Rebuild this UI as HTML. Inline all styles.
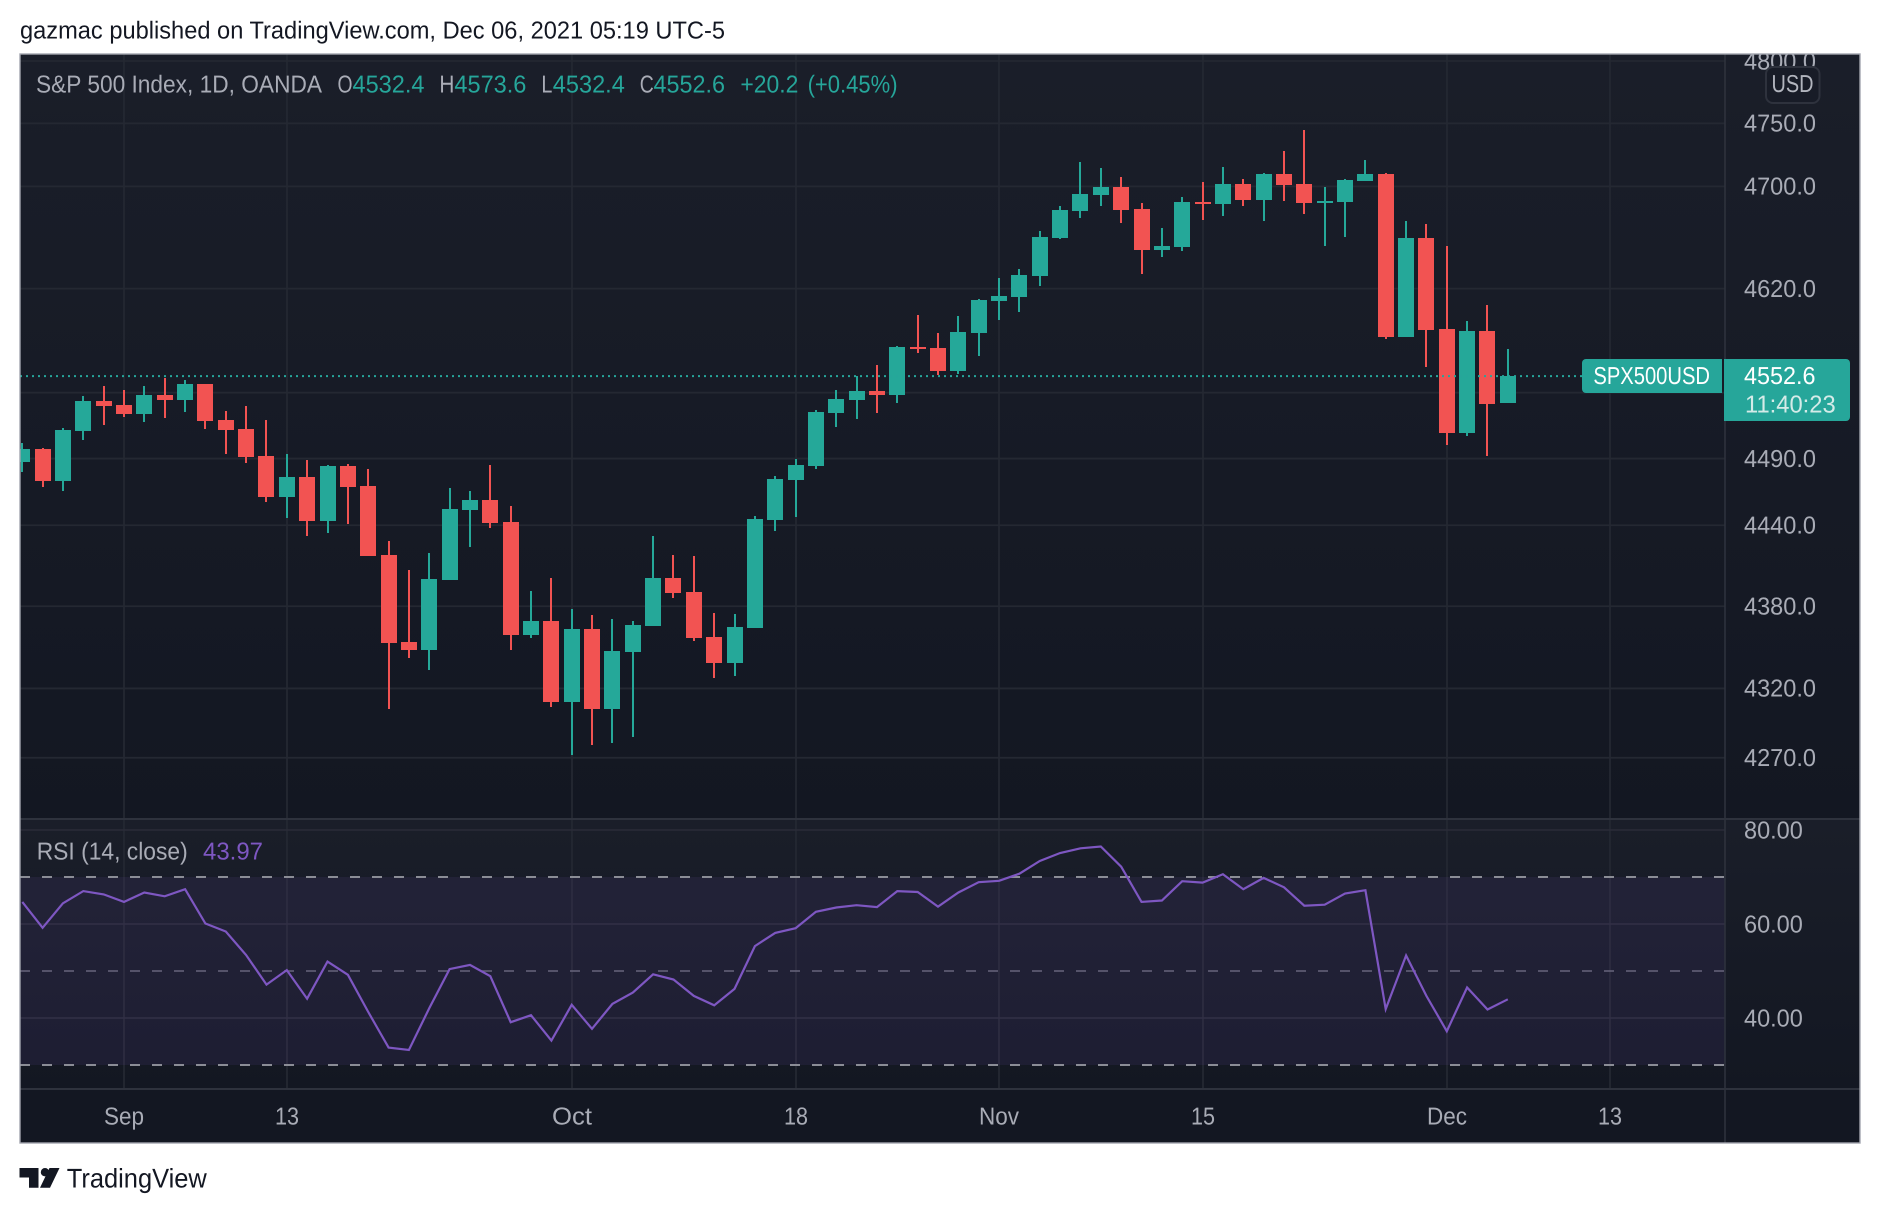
<!DOCTYPE html>
<html lang="en">
<head>
<meta charset="utf-8">
<title>S&amp;P 500 Index chart</title>
<style>
html,body{margin:0;padding:0;background:#fff;}
svg{display:block;}
text{font-family:"Liberation Sans",Arial,sans-serif;font-size:24.5px;text-rendering:geometricPrecision;}
</style>
</head>
<body>
<svg id="chart" xmlns="http://www.w3.org/2000/svg" width="1880" height="1214" viewBox="0 0 1880 1214">
  <defs>
    <linearGradient id="paneGradient" x1="0" y1="0" x2="0" y2="1">
      <stop offset="0" stop-color="#1a1e29"/>
      <stop offset="1" stop-color="#131722"/>
    </linearGradient>
    <clipPath id="paneClip"><rect x="20" y="54" width="1705" height="1035"/></clipPath>
    <clipPath id="frameClip"><rect x="20" y="54" width="1840" height="1090"/></clipPath>
  </defs>

  <text x="20" y="38.5" textLength="705" lengthAdjust="spacingAndGlyphs" fill="#131722">gazmac published on TradingView.com, Dec 06, 2021 05:19 UTC-5</text>

  <rect x="20" y="1089" width="1840" height="54" fill="#131722"/>
  <rect x="20" y="54" width="1840" height="765" fill="url(#paneGradient)"/>
  <rect x="20" y="819" width="1840" height="270" fill="url(#paneGradient)"/>

  <g id="gridLayer" clip-path="url(#paneClip)"></g>
  <g id="rsiLayer" clip-path="url(#paneClip)"></g>
  <g id="candleLayer" clip-path="url(#paneClip)"></g>

  <line x1="20" x2="1860" y1="819" y2="819" stroke="#2e323d" stroke-width="2"/>
  <line x1="20" x2="1860" y1="1089" y2="1089" stroke="#2e323d" stroke-width="2"/>
  <line x1="1725" x2="1725" y1="54" y2="1143" stroke="#2e323d" stroke-width="1.6"/>

  <g id="axisLayer" clip-path="url(#frameClip)"></g>

  <line id="lastPriceLine" x1="20" x2="1582" stroke="#26a69a" stroke-width="2" stroke-dasharray="2 4"/>

  <g>
    <text x="36" y="92.5" textLength="286" lengthAdjust="spacingAndGlyphs" fill="#a9acb6">S&amp;P 500 Index, 1D, OANDA</text>
    <text x="337.5" y="92.5" textLength="15" lengthAdjust="spacingAndGlyphs" fill="#a9acb6">O</text>
    <text x="352.5" y="92.5" textLength="72" lengthAdjust="spacingAndGlyphs" fill="#26a69a">4532.4</text>
    <text x="439.4" y="92.5" textLength="15" lengthAdjust="spacingAndGlyphs" fill="#a9acb6">H</text>
    <text x="454.4" y="92.5" textLength="72" lengthAdjust="spacingAndGlyphs" fill="#26a69a">4573.6</text>
    <text x="541.4" y="92.5" textLength="11" lengthAdjust="spacingAndGlyphs" fill="#a9acb6">L</text>
    <text x="552.8" y="92.5" textLength="72" lengthAdjust="spacingAndGlyphs" fill="#26a69a">4532.4</text>
    <text x="639.7" y="92.5" textLength="14" lengthAdjust="spacingAndGlyphs" fill="#a9acb6">C</text>
    <text x="653.5" y="92.5" textLength="71.5" lengthAdjust="spacingAndGlyphs" fill="#26a69a">4552.6</text>
    <text x="740.4" y="92.5" textLength="58" lengthAdjust="spacingAndGlyphs" fill="#26a69a">+20.2</text>
    <text x="807.6" y="92.5" textLength="90" lengthAdjust="spacingAndGlyphs" fill="#26a69a">(+0.45%)</text>
    <text x="36.7" y="859.3" textLength="151" lengthAdjust="spacingAndGlyphs" fill="#a9acb6">RSI (14, close)</text>
    <text x="203" y="859.3" textLength="60" lengthAdjust="spacingAndGlyphs" fill="#7e57c2">43.97</text>
  </g>

  <g>
    <rect x="1766" y="67" width="53.5" height="36" rx="7" fill="#181c27" stroke="#2e323d" stroke-width="2"/>
    <text x="1771.5" y="92" textLength="42" lengthAdjust="spacingAndGlyphs" fill="#b2b5be">USD</text>
  </g>

  <g>
    <path d="M1586 359H1722V393H1586a4 4 0 0 1-4-4V363a4 4 0 0 1 4-4Z" fill="#26a69a"/>
    <text x="1593.4" y="384.2" textLength="116.6" lengthAdjust="spacingAndGlyphs" fill="#ffffff">SPX500USD</text>
    <path d="M1724 359H1846a4 4 0 0 1 4 4V417a4 4 0 0 1-4 4H1724Z" fill="#26a69a"/>
    <text x="1744" y="384.2" textLength="71.5" lengthAdjust="spacingAndGlyphs" fill="#ffffff">4552.6</text>
    <text x="1745" y="412.5" textLength="90.7" lengthAdjust="spacingAndGlyphs" fill="#d4ebe8">11:40:23</text>
  </g>

  <rect x="20" y="54" width="1840" height="1089" fill="none" stroke="#a3a6af" stroke-width="1.4"/>

  <g>
    <path d="M19.5 1168H38.5V1187.7H29V1177.5H19.5Z" fill="#131722"/>
    <circle cx="45" cy="1172.2" r="4.2" fill="#131722"/>
    <path d="M49.5 1168H59.5L50 1187.7H40Z" fill="#131722"/>
    <text x="66.8" y="1187.7" textLength="140" lengthAdjust="spacingAndGlyphs" style="font-size:27px" fill="#131722">TradingView</text>
  </g>
</svg>

<script>
const dates = ["Aug 25","Aug 26","Aug 27","Aug 30","Aug 31","Sep 1","Sep 2","Sep 3","Sep 6","Sep 7","Sep 8","Sep 9","Sep 10","Sep 13","Sep 14","Sep 15","Sep 16","Sep 17","Sep 20","Sep 21","Sep 22","Sep 23","Sep 24","Sep 27","Sep 28","Sep 29","Sep 30","Oct 1","Oct 4","Oct 5","Oct 6","Oct 7","Oct 8","Oct 11","Oct 12","Oct 13","Oct 14","Oct 15","Oct 18","Oct 19","Oct 20","Oct 21","Oct 22","Oct 25","Oct 26","Oct 27","Oct 28","Oct 29","Nov 1","Nov 2","Nov 3","Nov 4","Nov 5","Nov 8","Nov 9","Nov 10","Nov 11","Nov 12","Nov 15","Nov 16","Nov 17","Nov 18","Nov 19","Nov 22","Nov 23","Nov 24","Nov 25","Nov 26","Nov 29","Nov 30","Dec 1","Dec 2","Dec 3","Dec 6"];

const opens = [4487.5,4497.2,4473.2,4511,4533.6,4530.6,4523.8,4538.2,4534.4,4546.6,4519.2,4512.4,4492,4461.2,4476.2,4443.2,4484.5,4469.4,4417.9,4353.8,4347.9,4399.4,4451.4,4458.9,4442.5,4358.9,4369.2,4310.2,4363.3,4305.1,4346.4,4365.5,4400.9,4390.5,4357.4,4338.5,4364,4444,4474,4484.5,4524.5,4534.4,4541.3,4538.2,4574.9,4574.1,4556.6,4585.7,4610.4,4613.5,4629.8,4659.4,4680.6,4693.3,4699.6,4682.2,4650,4652.4,4687.7,4686.2,4702,4689.3,4709.8,4702,4686.9,4687.7,4704.3,4709.8,4582.6,4659.4,4588.8,4509.4,4587.2,4532.4];

const highs = [4501.8,4498,4513.2,4537.5,4545.1,4542,4545.1,4551,4549.7,4546.6,4526,4529.9,4519.2,4493.5,4489,4485.2,4486,4482.2,4428.3,4406.8,4419.4,4467.9,4465.7,4485.2,4454.4,4391.3,4400.9,4378,4373.6,4370.7,4369.2,4432,4417.9,4417.2,4375,4374.3,4447,4477,4489.7,4526.8,4542,4552.5,4561,4575.7,4599.6,4585.7,4598.9,4612,4628.3,4635.3,4665,4684.6,4719.3,4714.6,4707.5,4686.9,4667.3,4691.7,4703.5,4715.4,4706,4710.6,4728,4744.8,4699.6,4706,4720.9,4710.6,4672.8,4670.5,4653.1,4595,4607.3,4573.6];

const lows = [4480,4468.7,4465.7,4504.1,4515.5,4521.5,4517.7,4520.8,4525.3,4512.4,4493.5,4486.7,4457.4,4445.5,4432,4434.2,4441,4417.2,4305.1,4342.1,4333.4,4399.4,4423.8,4438,4347.9,4356.7,4306.6,4272,4279.2,4280.6,4285,4365.5,4386.1,4354.5,4327.6,4329,4364,4435.7,4446.2,4482.2,4514,4520,4524.5,4532.1,4570.3,4553.5,4554.3,4568,4595.8,4601.9,4622,4658.6,4675.2,4684.6,4671.2,4631.4,4644.6,4649.2,4673.6,4676.7,4684.6,4672.8,4688.5,4678.3,4653.1,4660.2,4704.3,4581.1,4582.6,4559.6,4500.2,4507.1,4492,4532.4];

const closes = [4497.2,4473.2,4511.7,4533.6,4529.9,4523.8,4538.2,4534.4,4546.6,4518.5,4511.7,4491.2,4461.2,4476.2,4443.2,4484.5,4468.7,4417.2,4353,4347.9,4400.1,4452.2,4458.9,4441.7,4358.9,4369.2,4310.2,4363.3,4305.1,4347.2,4366.3,4400.9,4389.8,4356.7,4338.5,4364.8,4444.7,4474.7,4485.2,4525.3,4535.2,4541.3,4538.2,4574.9,4573.4,4556.6,4586.5,4611.2,4614.3,4630.6,4660.2,4681.4,4694,4699.6,4681.4,4650,4653.1,4687.7,4686.2,4702,4689.3,4709.8,4701.2,4686.9,4688.5,4705.1,4709.8,4582.6,4659.4,4588,4509.4,4587.2,4531.4,4552.6];

const rsiValues = [64.7,59.2,64.4,67.0,66.3,64.7,66.7,65.9,67.4,60.1,58.4,53.4,47.1,50.2,44.1,52.0,49.2,41.3,33.7,33.2,42.1,50.4,51.3,48.9,39.1,40.6,35.2,42.8,37.7,43.0,45.4,49.3,48.2,44.7,42.7,46.2,55.3,58.1,59.1,62.6,63.5,64.0,63.6,67.0,66.8,63.7,66.7,68.9,69.2,70.7,73.4,75.1,76.1,76.5,72.2,64.7,65.0,69.1,68.8,70.6,67.4,69.8,67.8,63.9,64.1,66.5,67.2,41.9,53.3,44.7,37.2,46.5,41.8,43.97];

const priceTicks = [4800,4750,4700,4620,4540,4490,4440,4380,4320,4270];
const rsiTicks = [80,60,40];
const rsiBands = [70,50,30];
const timeTickLabels = ["Sep","13","Oct","18","Nov","15","Dec","13"];
const timeTickBars = [5,13,27,38,48,58,70,78];
const lastPrice = 4552.6;

const SVG_NS = "http://www.w3.org/2000/svg";

function xOfBar(i) { return 124 + (i - 5) * 20.35; }
function yOfPrice(p) { return 61 + 5955 * Math.log(4800 / p); }
function yOfRsi(v) { return 830 + (80 - v) * 4.7; }

function make(tag, attrs, parent) {
  const el = document.createElementNS(SVG_NS, tag);
  for (const k in attrs) el.setAttribute(k, attrs[k]);
  parent.appendChild(el);
  return el;
}

const gridLayer = document.getElementById("gridLayer");
const rsiLayer = document.getElementById("rsiLayer");
const candleLayer = document.getElementById("candleLayer");
const axisLayer = document.getElementById("axisLayer");

/* vertical grid + time labels */
timeTickBars.forEach(function (bar, n) {
  const x = Math.round(xOfBar(bar));
  const v = make("line", { x1: x, x2: x, y1: 54, y2: 1089, stroke: "#242832", "stroke-width": 1.8 }, gridLayer);
  
  
  const label = timeTickLabels[n];
  const w = label.length === 2 ? 24 : 40;
  const t = make("text", { x: x - w / 2, y: 1124.3, textLength: w, lengthAdjust: "spacingAndGlyphs", fill: "#a9acb6" }, axisLayer);
  t.textContent = label;
  
  
});

/* price grid + labels */
priceTicks.forEach(function (p) {
  const y = yOfPrice(p);
  const g = make("line", { x1: 20, x2: 1725, y1: y, y2: y, stroke: "#242832", "stroke-width": 1.8 }, gridLayer);
  
  
  const t = make("text", { x: 1744, y: y + 8.3, textLength: 72, lengthAdjust: "spacingAndGlyphs", fill: "#a9acb6" }, axisLayer);
  t.textContent = p.toFixed(1);
  
  
});

/* RSI grid + labels */
rsiTicks.forEach(function (v) {
  const y = yOfRsi(v);
  const g = make("line", { x1: 20, x2: 1725, y1: y, y2: y, stroke: "#2a2c38", "stroke-width": 1.6 }, gridLayer);
  
  
  const t = make("text", { x: 1744, y: y + 8.3, textLength: 58.8, lengthAdjust: "spacingAndGlyphs", fill: "#a9acb6" }, axisLayer);
  t.textContent = v.toFixed(2);
  
  
});

/* RSI band */
const bandTop = yOfRsi(rsiBands[0]);
const bandBottom = yOfRsi(rsiBands[2]);
const band = make("rect", { x: 20, y: bandTop, width: 1705, height: bandBottom - bandTop, fill: "#7e57c2", "fill-opacity": 0.1 }, rsiLayer);



rsiBands.forEach(function (v, n) {
  const y = yOfRsi(v);
  const mid = n === 1;
  const l = make("line", { x1: 20, x2: 1725, y1: y, y2: y, stroke: mid ? "#67647c" : "#8b8d96", "stroke-width": mid ? 1.5 : 2, "stroke-dasharray": "10 12" }, rsiLayer);
  
  
});

const rsiPoints = rsiValues.map(function (v, i) { return xOfBar(i).toFixed(1) + "," + yOfRsi(v).toFixed(1); }).join(" ");
const rsiLine = make("polyline", { points: rsiPoints, fill: "none", stroke: "#7e57c2", "stroke-width": 2.2, "stroke-linejoin": "miter" }, rsiLayer);



/* candles */
dates.forEach(function (d, i) {
  const up = closes[i] >= opens[i];
  const color = up ? "#25a899" : "#f25352";
  const cx = Math.round(xOfBar(i));
  const yTop = yOfPrice(Math.max(opens[i], closes[i]));
  const yBot = yOfPrice(Math.min(opens[i], closes[i]));
  const yHigh = yOfPrice(highs[i]);
  const yLow = yOfPrice(lows[i]);
  const wick = make("rect", { x: cx - 1, y: Math.round(yHigh), width: 2, height: Math.max(1, Math.round(yLow) - Math.round(yHigh)), fill: color, "shape-rendering": "crispEdges" }, candleLayer);
  
  
  const bodyTop = Math.round(yTop);
  const bodyHeight = Math.max(2, Math.round(yBot) - bodyTop);
  const body = make("rect", { x: cx - 8, y: bodyTop, width: 16, height: bodyHeight, fill: color, "shape-rendering": "crispEdges" }, candleLayer);
  
  
  const title = make("title", {}, body);
  title.textContent = d;
});

/* last price line */
const lastLine = document.getElementById("lastPriceLine");
lastLine.setAttribute("y1", yOfPrice(lastPrice));
lastLine.setAttribute("y2", yOfPrice(lastPrice));
</script>
</body>
</html>
